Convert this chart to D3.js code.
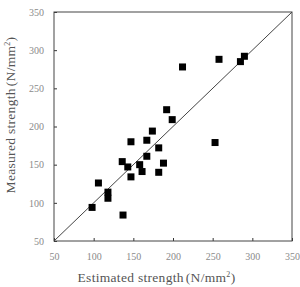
<!DOCTYPE html>
<html>
<head>
<meta charset="utf-8">
<script src="https://cdn.jsdelivr.net/npm/d3@7"></script>
<style>
  html, body { margin: 0; padding: 0; background: #fff; }
  svg { display: block; }
</style>
</head>
<body>
<svg id="chart" width="300" height="287"></svg>
<script>
// estimated vs measured strength (N/mm2)
const estimated = [98, 106, 118, 118, 137, 136, 143, 147, 147, 158, 161, 167, 167, 174, 182, 182, 188, 192, 199, 212, 253, 258, 285, 290];
const measured = [94, 126, 114, 106, 84, 154, 147, 134, 180, 150, 141, 161, 182, 194, 172, 140, 152, 222, 209, 278, 179, 288, 285, 292];
const ticks = [50, 100, 150, 200, 250, 300, 350];

const style = {
  margin: { left: 54, top: 12 },
  width: 238,
  height: 229,
  marker: 7
};

const svg = d3.select('#chart');

const x = d3.scaleLinear()
  .domain([50, 350])
  .range([style.margin.left, style.margin.left + style.width]);
const y = d3.scaleLinear()
  .domain([50, 350])
  .range([style.margin.top + style.height, style.margin.top]);

const points = estimated.map((d, i) => ({ x: d, y: measured[i] }));

// axes, ticks pointing into the plot
const xAxis = (g) =>
  g
    .attr('transform', `translate(0,${y(50)})`)
    .call(d3.axisBottom(x).tickValues(ticks).tickSize(-3).tickPadding(12))
    .call((g) => g.select('.domain').remove());

const yAxis = (g) =>
  g
    .attr('transform', `translate(${x(50)},0)`)
    .call(d3.axisLeft(y).tickValues(ticks).tickSize(-3).tickPadding(10))
    .call((g) => g.select('.domain').remove());

svg.append('g').call(xAxis);
svg.append('g').call(yAxis);

svg.selectAll('.tick line').attr('stroke', '#333');
svg.selectAll('.tick text')
  .attr('fill', '#8a8a8a')
  .style('font', '10px "Liberation Serif", "DejaVu Serif", serif');

// frame
svg.append('rect')
  .attr('x', x(50))
  .attr('y', y(350))
  .attr('width', x(350) - x(50))
  .attr('height', y(50) - y(350))
  .attr('fill', 'none')
  .attr('stroke', '#444')
  .attr('stroke-width', 1);

// 1:1 line
svg.append('line')
  .attr('x1', x(50)).attr('y1', y(50))
  .attr('x2', x(350)).attr('y2', y(350))
  .attr('stroke', '#444')
  .attr('stroke-width', 1);

// markers
svg.append('g')
  .selectAll('rect')
  .data(points)
  .join('rect')
  .attr('x', (d) => x(d.x) - style.marker / 2)
  .attr('y', (d) => y(d.y) - style.marker / 2)
  .attr('width', style.marker)
  .attr('height', style.marker)
  .attr('fill', '#000');

// axis titles
const labelFont = '13.5px "Liberation Serif", "DejaVu Serif", serif';

const addTitle = (g, name) => {
  g.append('tspan').text(name);
  g.append('tspan').attr('dx', 2).text('(N/mm');
  g.append('tspan').attr('dy', -5).style('font-size', '8px').text('2');
  g.append('tspan').attr('dy', 5).text(')');
};

svg.append('text')
  .attr('x', 156.5)
  .attr('y', 282)
  .attr('text-anchor', 'middle')
  .attr('fill', '#555')
  .style('font', labelFont)
  .style('letter-spacing', '0.3px')
  .call(addTitle, 'Estimated strength');

svg.append('text')
  .attr('transform', 'translate(15,115) rotate(-90)')
  .attr('text-anchor', 'middle')
  .attr('fill', '#555')
  .style('font', labelFont)
  .style('letter-spacing', '0.3px')
  .call(addTitle, 'Measured strength');
</script>
</body>
</html>
